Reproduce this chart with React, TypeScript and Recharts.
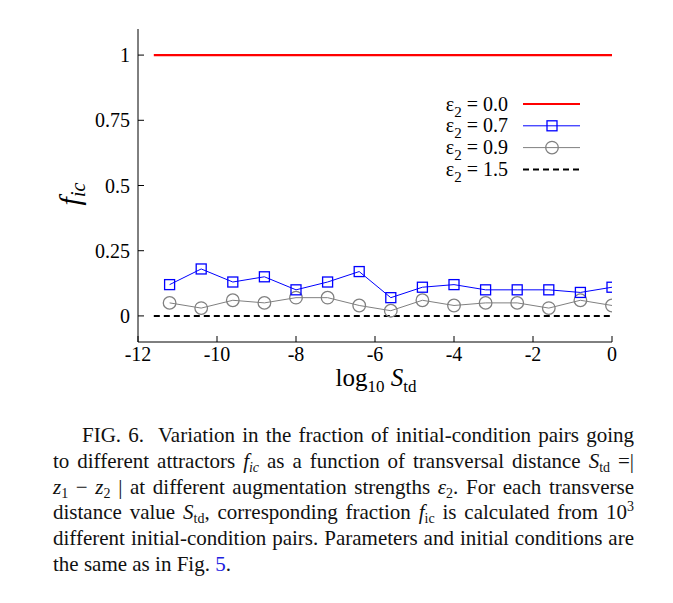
import { LineChart, Line, XAxis, YAxis } from "recharts";

// log10 S_td sample positions
const sampleX = [-11.2, -10.4, -9.6, -8.8, -8.0, -7.2, -6.4, -5.6, -4.8, -4.0, -3.2, -2.4, -1.6, -0.8, 0];
const lineX = [-11.6, -11.2, -10.4, -9.6, -8.8, -8.0, -7.2, -6.4, -5.6, -4.8, -4.0, -3.2, -2.4, -1.6, -0.8, 0];

// f_ic for each augmentation strength
const eps00 = [1, 1, 1, 1, 1, 1, 1, 1, 1, 1, 1, 1, 1, 1, 1, 1];
const eps07 = [0.12, 0.18, 0.13, 0.15, 0.1, 0.13, 0.17, 0.07, 0.11, 0.12, 0.1, 0.1, 0.1, 0.09, 0.11];
const eps09 = [0.05, 0.03, 0.06, 0.05, 0.07, 0.07, 0.04, 0.02, 0.06, 0.04, 0.05, 0.05, 0.03, 0.06, 0.04];
const eps15 = [0, 0, 0, 0, 0, 0, 0, 0, 0, 0, 0, 0, 0, 0, 0, 0];

const xTicks = [-12, -10, -8, -6, -4, -2, 0];
const yTicks = [0, 0.25, 0.5, 0.75, 1];

const serif = '"Liberation Serif", "Times New Roman", serif';
const BLUE = "#0000ff";
const GRAY = "#808080";
const RED = "#ff0000";

const toRows = (xs: number[], ys: number[]) => xs.map((x, i) => ({ x, y: ys[i] }));

const Square = (props: any) => {
  const { cx, cy, index } = props;
  if (cx == null || cy == null) return <g key={index} />;
  return <rect key={index} x={cx - 5} y={cy - 5} width={10} height={10} fill="none" stroke={BLUE} strokeWidth={1.3} />;
};

const Ring = (props: any) => {
  const { cx, cy, index } = props;
  if (cx == null || cy == null) return <g key={index} />;
  return <circle key={index} cx={cx} cy={cy} r={6.3} fill="none" stroke={GRAY} strokeWidth={1.3} />;
};

const tickStyle = { fill: "#000", fontSize: 20, style: { fontFamily: serif } };

function LegendBox() {
  const rows = [
    { label: "0.0", kind: "red" },
    { label: "0.7", kind: "square" },
    { label: "0.9", kind: "ring" },
    { label: "1.5", kind: "dash" },
  ];
  return (
    <svg width={657} height={400} style={{ position: "absolute", left: 0, top: 0, pointerEvents: "none", fontFamily: serif }}>
      {rows.map((r, i) => {
        const cy = 96 + i * 21.8;
        return (
          <g key={r.label}>
            <text x={500} y={cy + 6.5} textAnchor="end" fontSize={20} fill="#000" style={{ fontFamily: serif }}>
              ε<tspan fontSize={15} dy={6}>2</tspan>
              <tspan dy={-6}> = {r.label}</tspan>
            </text>
            {r.kind === "red" && <line x1={515} x2={572} y1={cy} y2={cy} stroke={RED} strokeWidth={2.2} />}
            {r.kind === "square" && (
              <g>
                <line x1={515} x2={572} y1={cy} y2={cy} stroke={BLUE} strokeWidth={1} />
                <rect x={539} y={cy - 5} width={10} height={10} fill="none" stroke={BLUE} strokeWidth={1.3} />
              </g>
            )}
            {r.kind === "ring" && (
              <g>
                <line x1={515} x2={572} y1={cy} y2={cy} stroke={GRAY} strokeWidth={1} />
                <circle cx={544} cy={cy} r={6.3} fill="none" stroke={GRAY} strokeWidth={1.3} />
              </g>
            )}
            {r.kind === "dash" && (
              <line x1={515} x2={572} y1={cy} y2={cy} stroke="#000" strokeWidth={2} strokeDasharray="6 4" />
            )}
          </g>
        );
      })}
    </svg>
  );
}

const lineStyle: React.CSSProperties = {
  textAlign: "justify",
  textAlignLast: "justify",
  whiteSpace: "nowrap",
  height: 25.8,
};

// sub/superscripts that do not stretch the line box
const sub: React.CSSProperties = { fontSize: 14, verticalAlign: "baseline", position: "relative", top: 4 };
const subI: React.CSSProperties = { ...sub, fontStyle: "italic" };
const sup: React.CSSProperties = { fontSize: 14, verticalAlign: "baseline", position: "relative", top: -8 };

function Caption() {
  return (
    <div
      style={{
        position: "absolute",
        left: 45,
        top: 415,
        width: 581,
        fontFamily: serif,
        fontSize: 21,
        lineHeight: "25.8px",
        color: "#111",
      }}
    >
      <div style={{ ...lineStyle, paddingLeft: 29 }}>FIG. 6.&nbsp; Variation in the fraction of initial-condition pairs going</div>
      <div style={lineStyle}>
        to different attractors <i>f</i>
        <span style={subI}>ic</span> as a function of transversal distance <i>S</i>
        <span style={sub}>td</span> =|
      </div>
      <div style={lineStyle}>
        <i>z</i>
        <span style={sub}>1</span> − <i>z</i>
        <span style={sub}>2</span> | at different augmentation strengths <i>ε</i>
        <span style={sub}>2</span>. For each transverse
      </div>
      <div style={lineStyle}>
        distance value <i>S</i>
        <span style={sub}>td</span>, corresponding fraction <i>f</i>
        <span style={sub}>ic</span> is calculated from 10
        <span style={sup}>3</span>
      </div>
      <div style={lineStyle}>different initial-condition pairs. Parameters and initial conditions are</div>
      <div style={{ height: 25.8 }}>
        the same as in Fig. <span style={{ color: "#2020e0" }}>5</span>.
      </div>
    </div>
  );
}

export default function App() {
  return (
    <div style={{ position: "relative", width: 657, height: 587, background: "#fff", fontFamily: serif }}>
      <LineChart width={657} height={400} margin={{ top: 21, right: 53, bottom: 26, left: 70 }} style={{ fontFamily: serif }}>
        <XAxis
          xAxisId={0}
          dataKey="x"
          type="number"
          domain={[-12, 0]}
          ticks={xTicks}
          height={40}
          tickSize={-6}
          tickMargin={11}
          tick={tickStyle}
          stroke="#000"
          allowDataOverflow
        />
        <XAxis
          xAxisId="top"
          orientation="top"
          type="number"
          domain={[-12, 0]}
          ticks={xTicks}
          height={0}
          tickSize={-6}
          tick={false}
          stroke="#000"
        />
        <YAxis
          yAxisId={0}
          type="number"
          domain={[-0.1, 1.1]}
          ticks={yTicks}
          width={60}
          tickSize={-6}
          tickMargin={14}
          tick={tickStyle}
          stroke="#000"
          allowDataOverflow
        />
        <YAxis
          yAxisId="right"
          orientation="right"
          type="number"
          domain={[-0.1, 1.1]}
          ticks={yTicks}
          width={0}
          tickSize={-6}
          tick={false}
          stroke="#000"
        />
        <Line
          data={toRows(lineX, eps00)}
          dataKey="y"
          stroke={RED}
          strokeWidth={2.2}
          dot={false}
          isAnimationActive={false}
        />
        <Line
          data={toRows(lineX, eps15)}
          dataKey="y"
          stroke="#000"
          strokeWidth={2}
          strokeDasharray="6 4"
          dot={false}
          isAnimationActive={false}
        />
        <Line
          data={toRows(sampleX, eps09)}
          dataKey="y"
          stroke={GRAY}
          strokeWidth={1}
          dot={Ring}
          activeDot={false}
          isAnimationActive={false}
        />
        <Line
          data={toRows(sampleX, eps07)}
          dataKey="y"
          stroke={BLUE}
          strokeWidth={1}
          dot={Square}
          activeDot={false}
          isAnimationActive={false}
        />
      </LineChart>
      <LegendBox />
      <div
        style={{
          position: "absolute",
          left: 32,
          top: 170,
          width: 60,
          height: 32,
          transform: "rotate(-90deg)",
          textAlign: "center",
          fontSize: 30,
          fontStyle: "italic",
          lineHeight: "32px",
        }}
      >
        f<span style={{ fontSize: 20, position: "relative", top: 5 }}>ic</span>
      </div>
      <div
        style={{
          position: "absolute",
          left: 288,
          top: 355,
          width: 160,
          textAlign: "center",
          fontSize: 25,
          lineHeight: "30px",
        }}
      >
        log<span style={{ fontSize: 17, position: "relative", top: 6 }}>10</span> <i>S</i>
        <span style={{ fontSize: 17, position: "relative", top: 6 }}>td</span>
      </div>
      <Caption />
    </div>
  );
}
